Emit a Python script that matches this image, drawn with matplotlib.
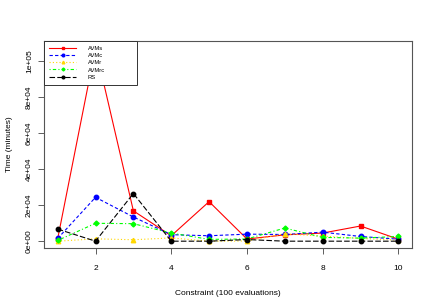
import matplotlib
matplotlib.use("Agg")
import matplotlib.pyplot as plt

plt.rcParams['font.family'] = ['Liberation Sans', 'DejaVu Sans']

# constraint index (100 evaluations each)
constraints = [1, 2, 3, 4, 5, 6, 7, 8, 9, 10]

avms = [1300, 107000, 16800, 3000, 21900, 1200, 3500, 4500, 8400, 1100]
avmc = [1500, 24300, 13400, 3600, 3000, 3900, 3700, 5000, 2600, 1100]
avmr = [0, 1300, 800, 1800, 0, 100, 4100, 2800, 1500, 600]
avmrc = [400, 9900, 9700, 4500, 1000, 1200, 7300, 2100, 1700, 2600]
rs = [6700, 0, 26400, 0, 0, 900, 0, 0, 0, 0]

xticks = [2, 4, 6, 8, 10]
yticks = [0, 20000, 40000, 60000, 80000, 100000]
ytick_labels = ["0e+00", "2e+04", "4e+04", "6e+04", "8e+04", "1e+05"]

fig = plt.figure(figsize=(4.36, 3.0), dpi=100)
ax = fig.add_axes([0.101, 0.172, 0.844, 0.692])

ms = 3.2
ax.plot(constraints, avms, color="red", ls="-", lw=0.8, marker="s", ms=ms, label="AVMs")
ax.plot(constraints, avmc, color="blue", ls=(0, (3, 2)), lw=0.8, marker="o", ms=ms, label="AVMc")
ax.plot(constraints, avmr, color="#FFD700", ls=(0, (1, 2)), lw=0.8, marker="^", ms=ms, label="AVMr")
ax.plot(constraints, avmrc, color="#00FF00", ls=(0, (1, 2, 3, 2)), lw=0.8, marker="D", ms=2.5, label="AVMrc")
ax.plot(constraints, rs, color="black", ls=(0, (5, 2)), lw=0.8, marker="o", ms=ms, label="RS")

ax.set_xlim(0.64, 10.36)
ax.set_ylim(-4000, 111000)
ax.set_xticks(xticks)
ax.set_yticks(yticks)
ax.set_yticklabels(ytick_labels, rotation=90, va="center")
ax.tick_params(labelsize=6, length=4, width=0.6, color="#444444")
ax.tick_params(axis="x", pad=8)
ax.tick_params(axis="y", pad=4)

for sp in ax.spines.values():
    sp.set_linewidth(0.8)
    sp.set_color("#555555")

ax.set_xlabel("Constraint (100 evaluations)", fontsize=6, labelpad=13)
ax.set_ylabel("Time (minutes)", fontsize=6, labelpad=9)

w = 93 / 368.0
leg = ax.legend(loc="upper left", bbox_to_anchor=(0, 0.5, w, 0.5), mode="expand",
                fontsize=4.2, frameon=True, fancybox=False, edgecolor="#333333",
                borderpad=0.9, handlelength=4.6, handletextpad=2.0, labelspacing=0.35,
                borderaxespad=0, markerscale=0.6, framealpha=1)
leg.get_frame().set_linewidth(0.7)

fig.savefig("out.png", dpi=100)
